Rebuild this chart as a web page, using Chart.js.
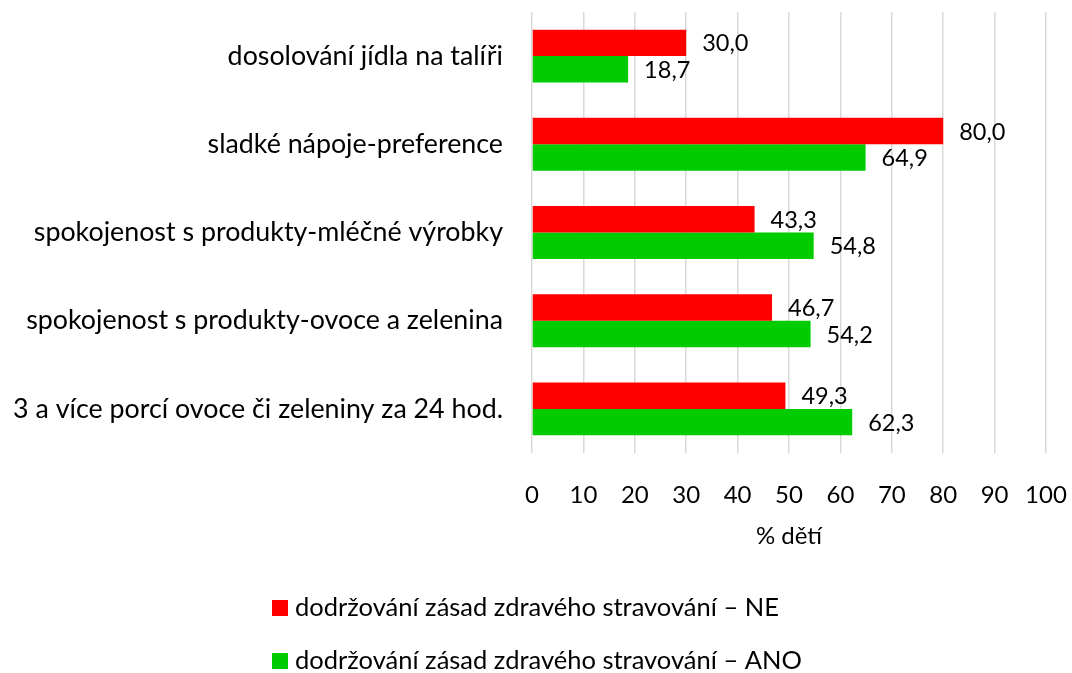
<!DOCTYPE html>
<html>
<head>
<meta charset="utf-8">
<script src="https://cdn.jsdelivr.net/npm/chart.js@4"></script>
<style>
  html, body { margin: 0; padding: 0; background: #fff; }
  #wrap { width: 1072px; height: 673px; position: relative; }
</style>
</head>
<body>
<div id="wrap"><canvas id="c" width="1072" height="673"></canvas></div>
<script>
const categories = [
  "dosolování jídla na talíři",
  "sladké nápoje-preference",
  "spokojenost s produkty-mléčné výrobky",
  "spokojenost s produkty-ovoce a zelenina",
  "3 a více porcí ovoce či zeleniny za 24 hod."
];
const seriesNE = [30.0, 80.0, 43.3, 46.7, 49.3];
const seriesANO = [18.7, 64.9, 54.8, 54.2, 62.3];
const seriesLabels = [
  "dodržování zásad zdravého stravování – NE",
  "dodržování zásad zdravého stravování – ANO"
];
const xTicks = [0, 10, 20, 30, 40, 50, 60, 70, 80, 90, 100];
const axisTitle = "% dětí";

const FONT = "Lato";
const FS_TICK = 24;
const FS_CAT = 26.8;
const FS_LEG = 25.5;
const FS_VAL = 23.5;

const valueLabels = {
  id: 'valueLabels',
  afterDatasetsDraw(chart) {
    const ctx = chart.ctx;
    ctx.save();
    ctx.font = FS_VAL + "px " + FONT;
    ctx.fillStyle = "#000";
    ctx.textAlign = "left";
    ctx.textBaseline = "middle";
    chart.data.datasets.forEach((ds, di) => {
      const meta = chart.getDatasetMeta(di);
      meta.data.forEach((bar, i) => {
        const txt = ds.data[i].toFixed(1).replace('.', ',');
        ctx.fillText(txt, bar.x + 16, bar.y + 1);
      });
    });
    ctx.restore();
  }
};

const customLegend = {
  id: 'customLegend',
  afterDraw(chart) {
    const ctx = chart.ctx;
    ctx.save();
    ctx.font = FS_LEG + "px " + FONT;
    ctx.textAlign = "left";
    ctx.textBaseline = "middle";
    const rowsY = [608, 661];
    chart.data.datasets.forEach((ds, di) => {
      const y = rowsY[di];
      ctx.fillStyle = ds.backgroundColor;
      ctx.fillRect(272, y - 8, 16, 16);
      ctx.fillStyle = "#000";
      ctx.fillText(ds.label, 295, y);
    });
    ctx.restore();
  }
};

new Chart(document.getElementById('c'), {
  type: 'bar',
  data: {
    labels: categories,
    datasets: [
      { label: seriesLabels[0], data: seriesNE, backgroundColor: '#FF0000', borderWidth: 0 },
      { label: seriesLabels[1], data: seriesANO, backgroundColor: '#00CC00', borderWidth: 0 }
    ]
  },
  options: {
    indexAxis: 'y',
    responsive: false,
    animation: false,
    devicePixelRatio: 1,
    layout: { padding: { top: 12, right: 26, bottom: 0, left: 0 } },
    datasets: { bar: { barPercentage: 1.0, categoryPercentage: 0.6 } },
    plugins: { legend: { display: false }, tooltip: { enabled: false } },
    scales: {
      x: {
        min: 0, max: 100,
        afterBuildTicks(scale) { scale.ticks = xTicks.map(v => ({ value: v })); },
        afterFit(scale) { scale.height = 220; scale.paddingLeft = 0; scale.paddingRight = 0; },
        grid: { color: '#D9D9D9', lineWidth: 1.5, drawTicks: false },
        border: { display: false },
        ticks: { color: '#000', font: { family: FONT, size: FS_TICK }, padding: 28, maxRotation: 0, autoSkip: false },
        title: { display: true, text: axisTitle, color: '#000', font: { family: FONT, size: FS_TICK }, padding: { top: 0, bottom: 122 } }
      },
      y: {
        afterFit(scale) { scale.width = 532; scale.paddingTop = 0; scale.paddingBottom = 0; },
        grid: { display: false, drawTicks: false },
        border: { display: false },
        ticks: { color: '#000', font: { family: FONT, size: FS_CAT }, padding: 29, autoSkip: false }
      }
    }
  },
  plugins: [valueLabels, customLegend]
});
</script>
</body>
</html>
